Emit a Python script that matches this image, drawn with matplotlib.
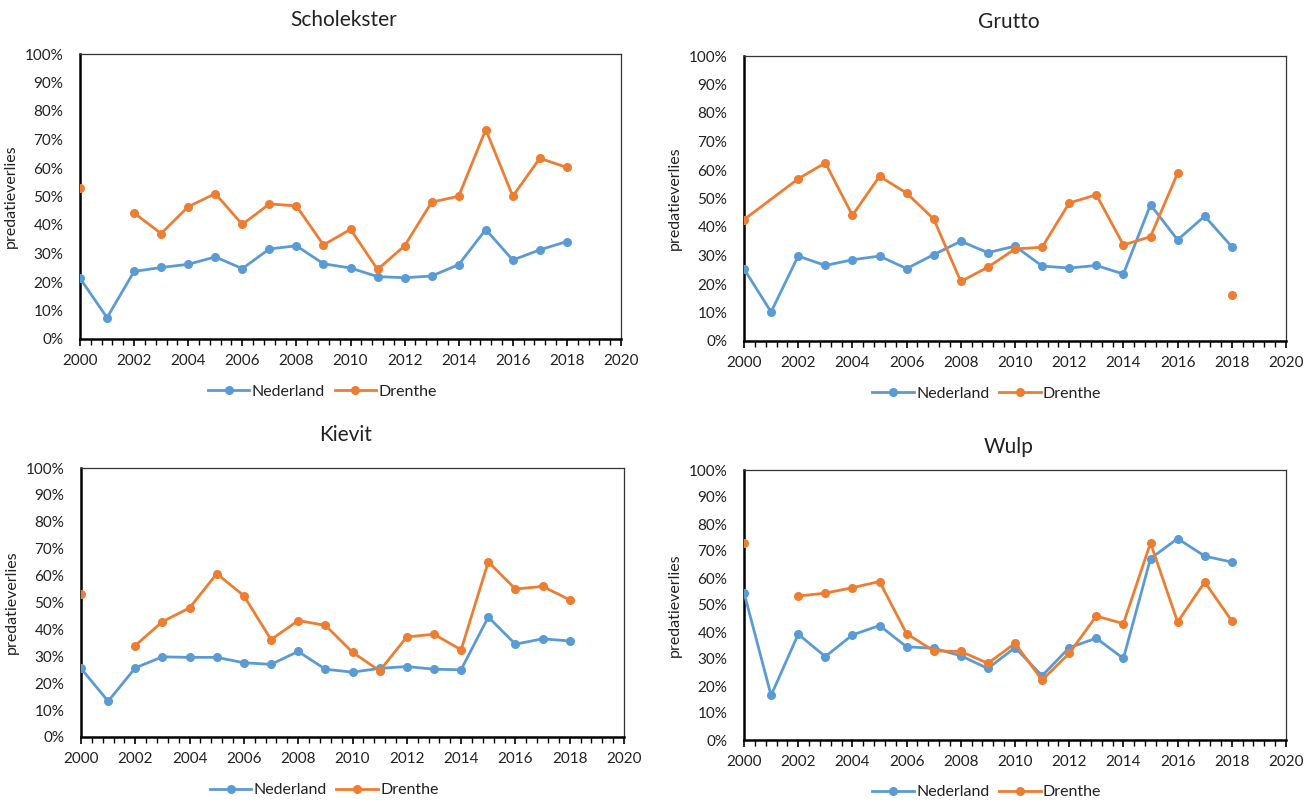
import numpy as np
import matplotlib
matplotlib.use("Agg")
import matplotlib.pyplot as plt
from matplotlib.ticker import MultipleLocator, PercentFormatter

plt.rcParams['font.family'] = ['Lato', 'DejaVu Sans']

years = list(range(2000, 2019))

# Scholekster
scholekster_nl = [21.3, 7.5, 23.7, 25.1, 26.2, 28.8, 24.7, 31.6, 32.7, 26.4,
                  24.9, 21.9, 21.5, 22.1, 26.1, 38.4, 27.7, 31.3, 34.2]
scholekster_dr_years = years
scholekster_dr = [53.0, None, 44.2, 37.0, 46.4, 51.0, 40.2, 47.4, 46.7, 33.0,
                  38.5, 24.4, 32.7, 48.0, 50.1, 73.5, 50.1, 63.4, 60.2]

# Grutto (Drenthe has no 2001 entry, and no value for 2017)
grutto_nl = [25.3, 10.2, 29.8, 26.5, 28.5, 29.8, 25.4, 30.3, 35.0, 31.0,
             33.3, 26.3, 25.6, 26.5, 23.5, 47.8, 35.5, 43.8, 33.1]
grutto_dr_years = [2000, 2002, 2003, 2004, 2005, 2006, 2007, 2008, 2009, 2010,
                   2011, 2012, 2013, 2014, 2015, 2016, 2017, 2018]
grutto_dr = [42.6, 56.9, 62.5, 44.1, 57.8, 51.9, 42.8, 20.9, 25.9, 32.3,
             32.9, 48.4, 51.3, 33.7, 36.6, 58.9, None, 16.3]

# Kievit
kievit_nl = [25.5, 13.3, 25.7, 29.8, 29.6, 29.6, 27.6, 27.0, 31.8, 25.2,
             24.1, 25.5, 26.2, 25.2, 25.0, 44.6, 34.5, 36.5, 35.7]
kievit_dr_years = years
kievit_dr = [53.1, None, 34.0, 42.9, 48.0, 60.7, 52.5, 36.2, 43.3, 41.5,
             31.5, 24.6, 37.2, 38.2, 32.4, 65.1, 55.0, 56.0, 51.0]

# Wulp
wulp_nl = [54.6, 16.5, 39.2, 30.9, 38.9, 42.4, 34.5, 34.0, 31.2, 26.5,
           34.2, 23.8, 34.2, 37.7, 30.2, 67.2, 74.6, 68.1, 65.9]
wulp_dr_years = years
wulp_dr = [72.8, None, 53.3, 54.4, 56.4, 58.7, 39.4, 33.0, 32.8, 28.4,
           35.8, 22.2, 32.1, 45.9, 43.1, 73.0, 43.7, 58.5, 44.1]

series_names = ["Nederland", "Drenthe"]
blue = "#5B9BD5"
orange = "#ED7D31"

panels = [
    ("Scholekster", scholekster_nl, scholekster_dr_years, scholekster_dr),
    ("Grutto", grutto_nl, grutto_dr_years, grutto_dr),
    ("Kievit", kievit_nl, kievit_dr_years, kievit_dr),
    ("Wulp", wulp_nl, wulp_dr_years, wulp_dr),
]

# axes rectangles in pixels: left, top, right, bottom
W, H = 1314, 801
rects_px = [
    (80, 54, 621, 339),
    (744, 56, 1286, 341),
    (81, 468, 624, 737),
    (744, 470, 1286, 740),
]
title_y_px = [20, 22, 435, 447]
legend_y_px = [392, 394, 790, 792]

fig = plt.figure(figsize=(W / 100, H / 100), dpi=100)

def to_float(vals):
    return np.array([np.nan if v is None else v for v in vals], dtype=float)

for (name, nl, dr_years, dr), (l, t, r, b), ty, ly in zip(panels, rects_px, title_y_px, legend_y_px):
    ax = fig.add_axes([l / W, 1 - b / H, (r - l) / W, (b - t) / H])
    ax.plot(years, to_float(nl), color=blue, lw=2.0, marker='o', ms=5.5,
            label=series_names[0], zorder=3)
    ax.plot(dr_years, to_float(dr), color=orange, lw=2.0, marker='o', ms=5.5,
            label=series_names[1], zorder=3)

    ax.set_xlim(2000, 2020)
    ax.set_ylim(0, 100)
    ax.xaxis.set_major_locator(MultipleLocator(2))
    ax.xaxis.set_minor_locator(MultipleLocator(0.4))
    ax.yaxis.set_major_locator(MultipleLocator(10))
    ax.yaxis.set_major_formatter(PercentFormatter(decimals=0))
    ax.tick_params(axis='x', which='major', direction='out', length=5, width=1.2,
                   labelsize=11, pad=6, colors='black', labelcolor='#222222')
    ax.tick_params(axis='x', which='minor', direction='out', length=4, width=1.0,
                   colors='black')
    ax.tick_params(axis='y', which='both', length=0, labelsize=11, pad=12,
                   labelcolor='#222222')

    for side in ('left', 'bottom'):
        ax.spines[side].set_linewidth(1.8)
        ax.spines[side].set_color('black')
    for side in ('top', 'right'):
        ax.spines[side].set_linewidth(0.9)
        ax.spines[side].set_color('#333333')

    ax.set_ylabel("predatieverlies", fontsize=11.5, color='#222222')
    ax.yaxis.set_label_coords(-62 / (r - l), 0.5)

    cx = (l + r) / 2 / W - 0.005
    fig.text(cx, 1 - ty / H, name, ha='center', va='center', fontsize=15,
             color='#222222')
    ax.legend(loc='center', bbox_to_anchor=(0.448, 1 - (ly - t) / (b - t)),
              ncol=2, frameon=False, fontsize=11.5, handlelength=2.6,
              handletextpad=0.15, columnspacing=0.6, labelcolor='#222222')

fig.savefig("out.png", dpi=100, facecolor='white')
